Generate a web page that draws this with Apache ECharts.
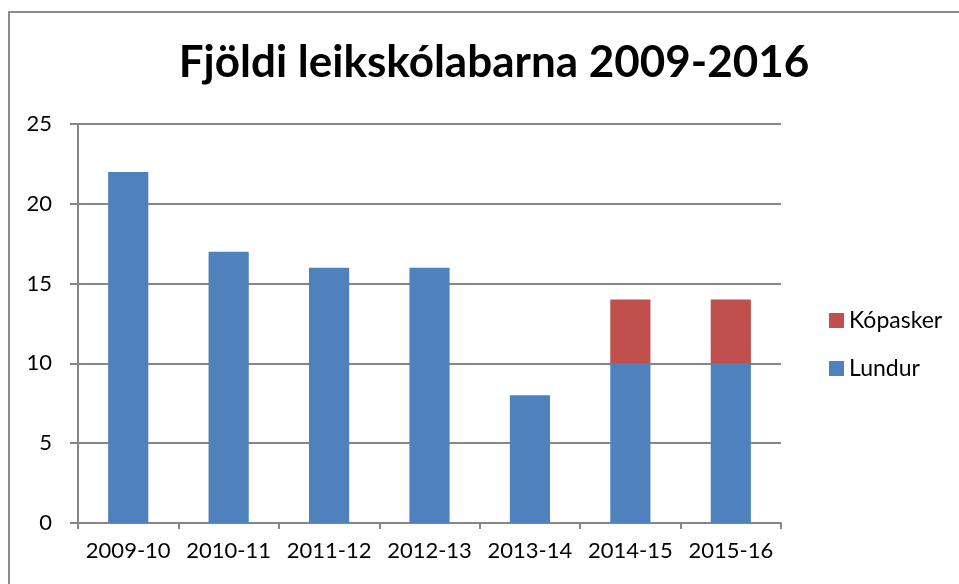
<!DOCTYPE html>
<html>
<head>
<meta charset="utf-8">
<script src="https://cdn.jsdelivr.net/npm/echarts@6/dist/echarts.min.js"></script>
<style>
  html, body { margin: 0; padding: 0; background: #fff; }
  #wrap { position: relative; width: 959px; height: 584px; overflow: hidden; }
  #frame { position: absolute; left: 8px; top: 11px; width: 1200px; height: 1000px;
           border-left: 2px solid #8c8c8c; border-top: 2px solid #8c8c8c; }
  #main { position: absolute; left: 0; top: 0; width: 959px; height: 584px; }
</style>
</head>
<body>
<div id="wrap">
  <div id="frame"></div>
  <div id="main"></div>
</div>
<script>
var categories = ["2009-10", "2010-11", "2011-12", "2012-13", "2013-14", "2014-15", "2015-16"];
var lundur = [22, 17, 16, 16, 8, 10, 10];
var kopasker = [0, 0, 0, 0, 0, 4, 4];
var yTicks = [0, 5, 10, 15, 20, 25];

var font = "Lato, 'Open Sans', sans-serif";
var myChart = echarts.init(document.getElementById("main"));
myChart.setOption({
  animation: false,
  textStyle: { fontFamily: font },
  title: {
    text: "Fjöldi leikskólabarna 2009-2016",
    left: 489,
    textAlign: "center",
    top: 36,
    textStyle: { fontFamily: font, fontSize: 44, fontWeight: "bold", color: "#000" }
  },
  legend: {
    orient: "vertical",
    left: 824,
    top: 304,
    itemWidth: 15,
    itemHeight: 15,
    itemGap: 25,
    icon: "rect",
    data: ["Kópasker", "Lundur"],
    textStyle: { fontFamily: font, fontSize: 23, color: "#000" }
  },
  grid: { left: 78, right: 178, top: 124, bottom: 61 },
  xAxis: {
    type: "category",
    data: categories,
    axisLine: { lineStyle: { color: "#868686", width: 2 } },
    axisTick: { show: true, length: 6, lineStyle: { color: "#868686", width: 2 } },
    axisLabel: { fontFamily: font, fontSize: 22, color: "#000", margin: 17, interval: 0 }
  },
  yAxis: {
    type: "value",
    min: yTicks[0],
    max: yTicks[yTicks.length - 1],
    interval: 5,
    axisLine: { show: true, lineStyle: { color: "#868686", width: 2 } },
    axisTick: { show: true, length: 8, lineStyle: { color: "#868686", width: 2 } },
    splitLine: { lineStyle: { color: "#868686", width: 2 } },
    axisLabel: { fontFamily: font, fontSize: 22, color: "#000", margin: 26 }
  },
  series: [
    {
      name: "Lundur",
      type: "bar",
      stack: "total",
      data: lundur,
      barWidth: "40%",
      itemStyle: { color: "#4F81BD" }
    },
    {
      name: "Kópasker",
      type: "bar",
      stack: "total",
      data: kopasker,
      barWidth: "40%",
      itemStyle: { color: "#C0504D" }
    }
  ]
});
</script>
</body>
</html>
